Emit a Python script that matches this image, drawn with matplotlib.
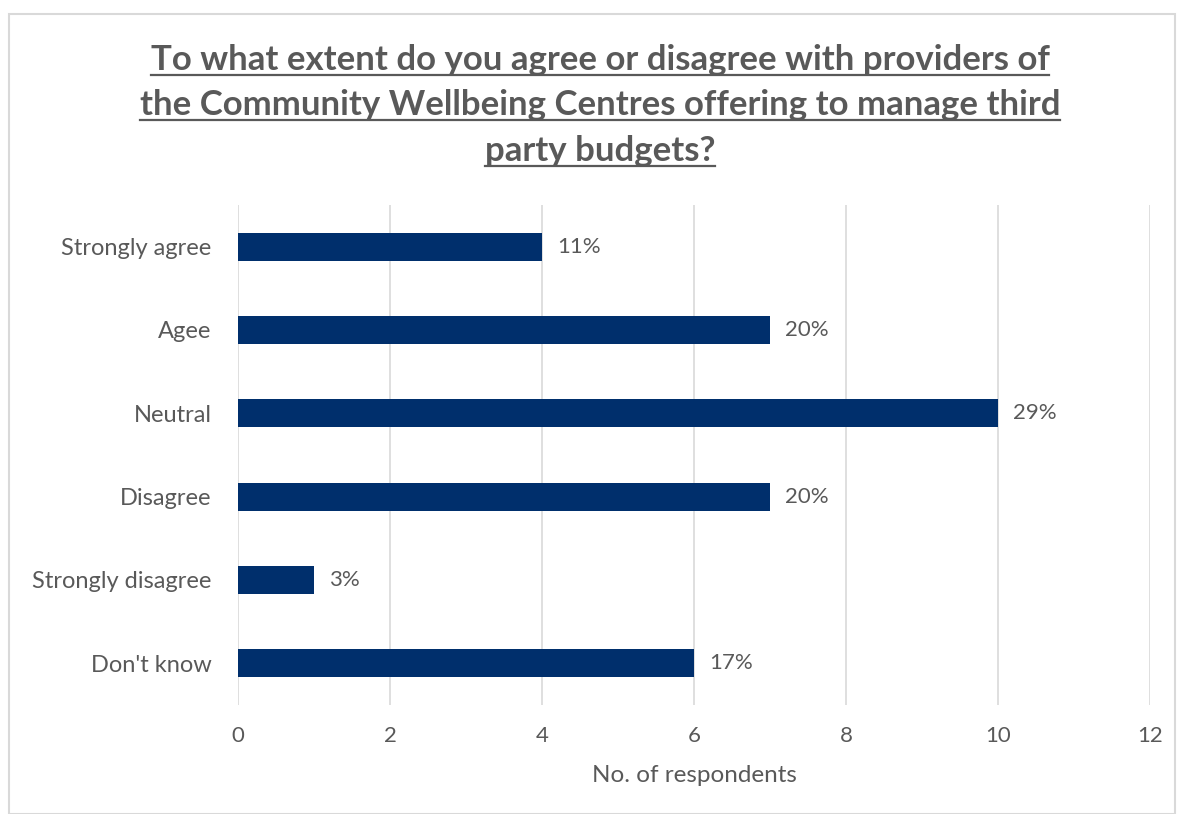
import matplotlib.pyplot as plt
from matplotlib.patches import Rectangle
from matplotlib.lines import Line2D

# Datos
categorias = ['Strongly agree', 'Agee', 'Neutral', 'Disagree', 'Strongly disagree', "Don't know"]
respuestas = [4, 7, 10, 7, 1, 6]
porcentajes = ['11%', '20%', '29%', '20%', '3%', '17%']
ticks_x = [0, 2, 4, 6, 8, 10, 12]
titulo = ['To what extent do you agree or disagree with providers of',
          'the Community Wellbeing Centres offering to manage third',
          'party budgets?']

gris = '#595959'
azul = '#002F6C'

plt.rcParams['font.family'] = ['Lato', 'DejaVu Sans']

fig = plt.figure(figsize=(11.78, 8.14), dpi=100)
fig.patches.append(Rectangle((9 / 1178, 0.0), 1 - 12 / 1178, 1 - 14 / 814,
                             transform=fig.transFigure, fill=False,
                             edgecolor='#d9d9d9', linewidth=1.5))

ax = fig.add_axes([238 / 1178, 1 - 705 / 814, (1150 - 238) / 1178, 500 / 814])

pos = list(range(len(categorias)))
ax.barh(pos, respuestas, height=0.335, color=azul, zorder=3)
for p, v, txt in zip(pos, respuestas, porcentajes):
    ax.annotate(txt, (v, p), xytext=(11, 0), textcoords='offset points',
                va='center', ha='left', fontsize=16, color=gris)

ax.set_ylim(len(categorias) - 0.5, -0.5)
ax.set_xlim(0, 12)
ax.set_xticks(ticks_x)
ax.set_yticks(pos)
ax.set_yticklabels(categorias)
ax.tick_params(axis='both', length=0, labelsize=16, labelcolor=gris)
ax.tick_params(axis='y', pad=19, labelsize=17)
ax.tick_params(axis='x', pad=15)
ax.grid(axis='x', color='#d9d9d9', linewidth=1.2, zorder=0)
for s in ax.spines.values():
    s.set_visible(False)
ax.set_xlabel('No. of respondents', fontsize=17.5, color=gris, labelpad=14)

# Titulo subrayado
renderer = fig.canvas.get_renderer()
bases = [70, 115, 161]
for linea, y in zip(titulo, bases):
    t = fig.text(600 / 1178, 1 - y / 814, linea, ha='center', va='baseline',
                 fontsize=25, fontweight='bold', color=gris)
    bb = t.get_window_extent(renderer=renderer)
    yl = 1 - (y + 5) / 814
    fig.lines.append(Line2D([bb.x0 / 1178, bb.x1 / 1178], [yl, yl],
                            transform=fig.transFigure, color=gris, linewidth=1.6))

fig.savefig('out.png', dpi=100)
